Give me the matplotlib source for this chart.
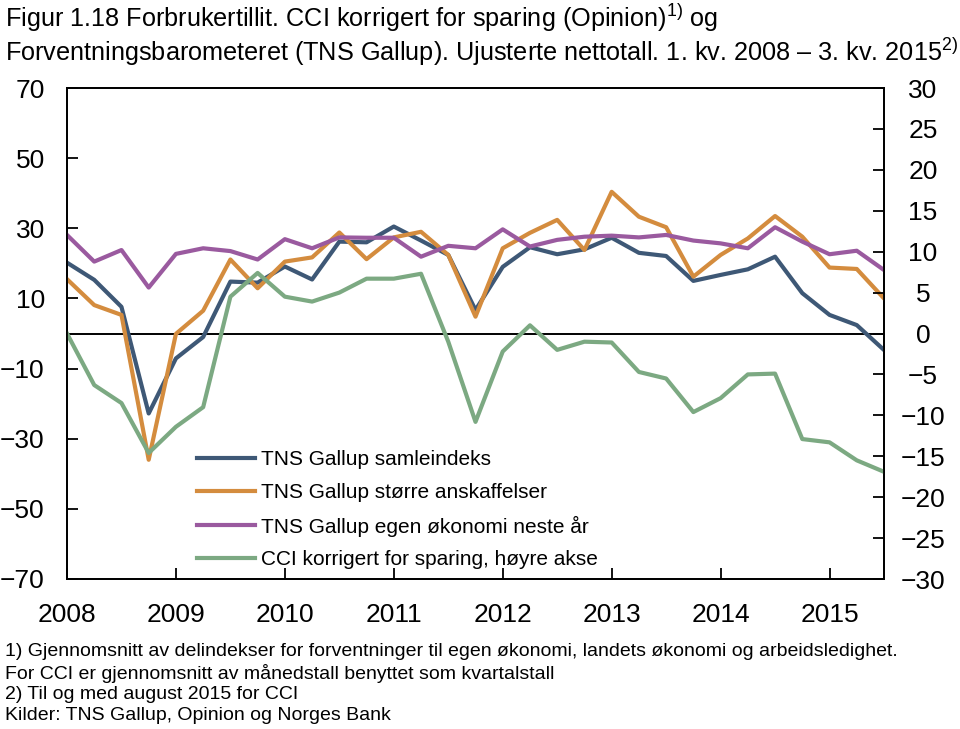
import matplotlib
matplotlib.use("Agg")
import matplotlib.pyplot as plt
from matplotlib import font_manager

# ---- data ----
quarters = list(range(31))  # 2008Q1 .. 2015Q3
year_labels = ["2008", "2009", "2010", "2011", "2012", "2013", "2014", "2015"]
samleindeks = [20.2, 15.3, 7.6, -22.8, -7.1, -1.0, 14.8, 14.5, 19.1, 15.4, 26.2, 26.0, 30.5, 26.5, 22.4,
               6.7, 19.0, 24.6, 22.6, 24.0, 27.3, 23.0, 22.1, 15.0, 16.7, 18.3, 21.9, 11.5, 5.3, 2.4, -4.7]
storre_anskaffelser = [15.5, 8.1, 5.3, -36.0, -0.1, 6.5, 21.1, 12.9, 20.5, 21.7, 28.8, 21.2, 27.4, 29.0, 22.4,
                       4.8, 24.3, 28.7, 32.4, 23.8, 40.4, 33.3, 30.3, 16.2, 22.4, 27.1, 33.5, 27.6, 18.8, 18.4, 10.0]
egen_okonomi = [28.1, 20.5, 23.8, 13.1, 22.7, 24.3, 23.5, 21.1, 26.9, 24.3, 27.4, 27.3, 27.3, 21.9, 25.0,
                24.3, 29.7, 24.8, 26.7, 27.6, 27.9, 27.4, 28.1, 26.5, 25.7, 24.3, 30.3, 26.2, 22.6, 23.6, 18.1]
cci = [0.0, -6.3, -8.5, -14.6, -11.4, -9.0, 4.5, 7.4, 4.5, 3.9, 5.0, 6.7, 6.7, 7.3, -1.0,
       -10.8, -2.2, 1.0, -2.0, -1.0, -1.1, -4.7, -5.5, -9.6, -7.9, -5.0, -4.9, -12.9, -13.3, -15.5, -16.9]
left_ticks = [70, 50, 30, 10, -10, -30, -50, -70]
right_ticks = [30, 25, 20, 15, 10, 5, 0, -5, -10, -15, -20, -25, -30]
series_names = ["TNS Gallup samleindeks", "TNS Gallup større anskaffelser",
                "TNS Gallup egen økonomi neste år", "CCI korrigert for sparing, høyre akse"]

available = {f.name for f in font_manager.fontManager.ttflist}
narrow = "Liberation Sans Narrow" if "Liberation Sans Narrow" in available else "Liberation Sans"

plt.rcParams['font.family'] = ['Liberation Sans', 'DejaVu Sans']
plt.rcParams['mathtext.fontset'] = 'custom'
plt.rcParams['mathtext.rm'] = narrow
plt.rcParams['mathtext.default'] = 'rm'

c_blue = "#3e5876"
c_orange = "#d48c3e"
c_purple = "#9a5a9f"
c_green = "#7ca982"
lw = 3.0

fig = plt.figure(figsize=(9.6, 7.29), dpi=100)
ax = fig.add_axes([67/960, 1-579/729, 817/960, 491/729])
ax2 = ax.twinx()

ax.axhline(0, color="black", lw=1.4, zorder=1)
l1, = ax.plot(quarters, samleindeks, color=c_blue, lw=lw, label=series_names[0], zorder=3)
l2, = ax.plot(quarters, storre_anskaffelser, color=c_orange, lw=lw, label=series_names[1], zorder=4)
l3, = ax.plot(quarters, egen_okonomi, color=c_purple, lw=lw, label=series_names[2], zorder=5)
l4, = ax2.plot(quarters, cci, color=c_green, lw=lw, label=series_names[3])

ax.set_xlim(0, 30)
ax.set_ylim(-70, 70)
ax2.set_ylim(-30, 30)

ax.set_yticks(left_ticks)
ax.set_yticklabels([str(v).replace("-", "\u2212") for v in left_ticks])
ax2.set_yticks(right_ticks)
ax2.set_yticklabels([str(v).replace("-", "\u2212") for v in right_ticks])
ax.set_xticks([0, 4, 8, 12, 16, 20, 24, 28])
ax.set_xticklabels(year_labels)

for a in (ax, ax2):
    for s in a.spines.values():
        s.set_linewidth(1.3)
ax.tick_params(axis='y', direction='in', length=8, width=1.3, labelsize=19, pad=16)
ax.tick_params(axis='x', direction='in', length=8, width=1.3, labelsize=19, pad=17)
ax2.tick_params(axis='y', direction='in', length=8, width=1.3, labelsize=19, pad=28)
for t in ax2.get_yticklabels():
    t.set_horizontalalignment('center')

leg = ax.legend(handles=[l1, l2, l3, l4], loc='upper left', bbox_to_anchor=(0.159, 0.262),
                frameon=False, fontsize=15, handlelength=2.8, handletextpad=0.3,
                labelspacing=0.65, borderpad=0, borderaxespad=0)
for h in leg.get_lines():
    h.set_linewidth(3)

title_fs = 18.2
fig.text(5/960, 1-18/729, r"Figur 1.18 Forbrukertillit. CCI korrigert for sparing (Opinion)$^{1)}$ og",
         fontsize=title_fs, family=[narrow, 'DejaVu Sans'], va='center', ha='left')
fig.text(5/960, 1-52/729,
         r"Forventningsbarometeret (TNS Gallup). Ujusterte nettotall. 1. kv. 2008 – 3. kv. 2015$^{2)}$",
         fontsize=title_fs, family=[narrow, 'DejaVu Sans'], va='center', ha='left')

notes = ["1) Gjennomsnitt av delindekser for forventninger til egen økonomi, landets økonomi og arbeidsledighet.",
         "For CCI er gjennomsnitt av månedstall benyttet som kvartalstall",
         "2) Til og med august 2015 for CCI",
         "Kilder: TNS Gallup, Opinion og Norges Bank"]
for i, n in enumerate(notes):
    fig.text(5/960, 1-(652 + i*21.3)/729, n, fontsize=14, va='center', ha='left')

fig.savefig("out.png", dpi=100)
